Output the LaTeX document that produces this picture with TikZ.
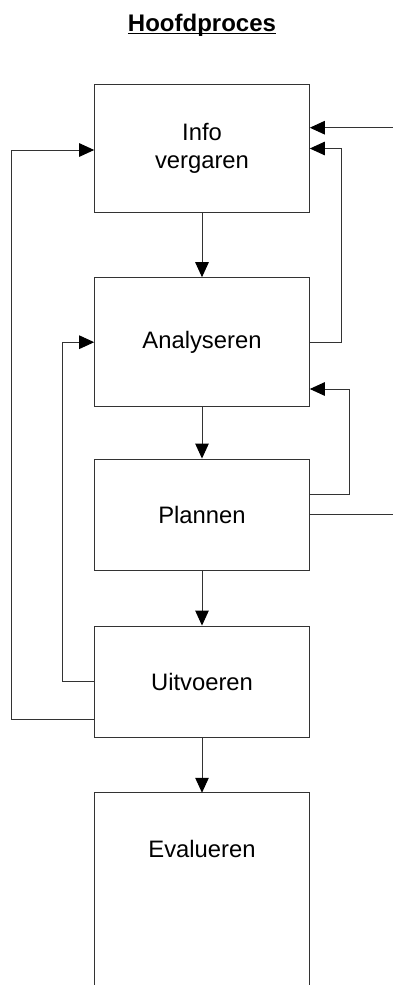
\documentclass[tikz,border=0pt]{standalone}
\usepackage{fontspec}
\setmainfont{Liberation Sans}
\usetikzlibrary{arrows.meta}
\begin{document}
\begin{tikzpicture}[x=1pt,y=-1pt,
  box/.style={draw=black!80,line width=1pt,minimum width=214.6pt,inner sep=0pt,align=center,
    font=\fontsize{23.8}{28}\selectfont},
  conn/.style={draw=black!80,line width=1pt},
  arr/.style={conn,-{Triangle[length=15pt,width=13.5pt,color=black]}}]
\useasboundingbox (0,0) rectangle (392,985);
\node[anchor=base,inner sep=0pt,font=\bfseries\fontsize{24}{28}\selectfont] (title) at (202,31.5) {Hoofdproces};
\draw[line width=1.3pt] ([yshift=-2pt]title.base west) -- ([yshift=-2pt]title.base east);
\node[box,minimum height=128.4pt] (info) at (202,148.5) {Info\\vergaren};
\node[box,minimum height=129pt] (ana) at (202,342.2) {Analyseren};
\node[box,minimum height=111.3pt] (plan) at (202,514.7) {Plannen};
\node[box,minimum height=111.3pt] (uit) at (202,681.7) {Uitvoeren};
\node[box,draw=none,minimum height=111.3pt] (eval) at (202,848.9) {Evalueren};
\draw[conn] ([yshift=-250pt]eval.north west) -- (eval.north west) -- (eval.north east) -- ([yshift=-250pt]eval.north east);
\coordinate (rin) at (400,127.7);
\coordinate (rout) at (400,514.7);
\draw[arr] (info) -- (ana);
\draw[arr] (ana) -- (plan);
\draw[arr] (plan) -- (uit);
\draw[arr] (uit) -- (eval.north);
\draw[arr] (rin) -- (info.east |- rin);
\draw[conn] (plan.east) -- (rout);
\draw[arr] (ana.east) -- ++(31.7,0) |- (info.east);
\draw[arr] ([yshift=20.4pt]plan.east) -- ++(40,0) |- ([yshift=-46.8pt]ana.east);
\draw[arr] (uit.west) -- ++(-32,0) |- (ana.west);
\draw[arr] ([yshift=-37.3pt]uit.west) -- ++(-83,0) |- ([yshift=-1.5pt]info.west);
\end{tikzpicture}
\end{document}
